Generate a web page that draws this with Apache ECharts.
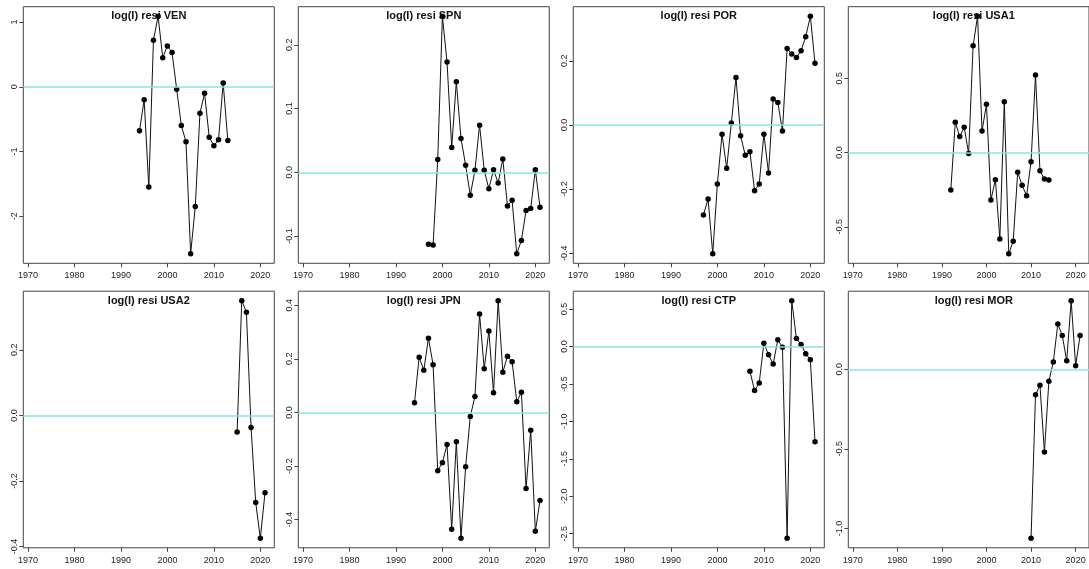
<!DOCTYPE html>
<html>
<head>
<meta charset="utf-8">
<script src="https://cdn.jsdelivr.net/npm/echarts@6/dist/echarts.min.js"></script>
<style>
  html, body { margin: 0; padding: 0; background: #fff; }
  #chart { width: 1089px; height: 569px; }
</style>
</head>
<body>
<div id="chart"></div>
<script>
// Panel names, in reading order (4 columns x 2 rows)
const panelNames = ['VEN', 'SPN', 'POR', 'USA1', 'USA2', 'JPN', 'CTP', 'MOR'];

// First year of each residual series (consecutive yearly values follow)
const firstYears = [1994, 1997, 1997, 1992, 2015, 1994, 2007, 2010];

// log(I) residuals per index
const venResid = [-0.68, -0.20, -1.55, 0.72, 1.09, 0.45, 0.63, 0.53, -0.04, -0.60,
                  -0.85, -2.58, -1.85, -0.41, -0.10, -0.78, -0.91, -0.82, 0.06, -0.83];
const spnResid = [-0.113, -0.114, 0.020, 0.245, 0.173, 0.039, 0.142, 0.053, 0.011, -0.036,
                  0.003, 0.074, 0.003, -0.026, 0.004, -0.017, 0.021, -0.053, -0.044, -0.128,
                  -0.107, -0.060, -0.057, 0.004, -0.055];
const porResid = [-0.281, -0.231, -0.402, -0.184, -0.029, -0.135, 0.006, 0.148, -0.034, -0.095,
                  -0.084, -0.205, -0.184, -0.029, -0.150, 0.081, 0.070, -0.019, 0.238, 0.221,
                  0.210, 0.231, 0.275, 0.339, 0.192];
const usa1Resid = [-0.253, 0.204, 0.107, 0.170, -0.007, 0.718, 0.917, 0.145, 0.324, -0.320,
                   -0.183, -0.582, 0.342, -0.682, -0.597, -0.134, -0.221, -0.291, -0.063, 0.521,
                   -0.123, -0.179, -0.186];
const usa2Resid = [-0.051, 0.350, 0.315, -0.037, -0.266, -0.375, -0.236];
const jpnResid = [0.036, 0.206, 0.157, 0.277, 0.178, -0.218, -0.188, -0.120, -0.436, -0.110,
                  -0.470, -0.203, -0.015, 0.059, 0.367, 0.163, 0.304, 0.073, 0.417, 0.150,
                  0.210, 0.189, 0.040, 0.075, -0.284, -0.067, -0.444, -0.329];
const ctpResid = [-0.332, -0.588, -0.487, 0.044, -0.111, -0.235, 0.088, -0.009, -2.562, 0.611,
                  0.106, 0.027, -0.097, -0.177, -1.274];
const morResid = [-1.062, -0.160, -0.100, -0.519, -0.075, 0.046, 0.285, 0.212, 0.054, 0.431,
                  0.023, 0.212];

// Tick labels
const yearTicks = [1970, 1980, 1990, 2000, 2010, 2020];
const venTicks = ['-2', '-1', '0', '1'];
const spnTicks = ['-0.1', '0.0', '0.1', '0.2'];
const porTicks = ['-0.4', '-0.2', '0.0', '0.2'];
const usa1Ticks = ['-0.5', '0.0', '0.5'];
const usa2Ticks = ['-0.4', '-0.2', '0.0', '0.2'];
const jpnTicks = ['-0.4', '-0.2', '0.0', '0.2', '0.4'];
const ctpTicks = ['-2.5', '-2.0', '-1.5', '-1.0', '-0.5', '0.0', '0.5'];
const morTicks = ['-1.0', '-0.5', '0.0'];

const residSets = [venResid, spnResid, porResid, usa1Resid, usa2Resid, jpnResid, ctpResid, morResid];
const tickSets = [venTicks, spnTicks, porTicks, usa1Ticks, usa2Ticks, jpnTicks, ctpTicks, morTicks];

// Panel geometry
const colStep = 275, rowStep = 284.5;
const boxLeft = 23.3, boxTop = 6.7, boxW = 251, boxH = 256.6;
const axisColor = '#444';
const zeroColor = '#84E4E8';
const fontFamily = '"Liberation Sans", Arial, Helvetica, sans-serif';

const grids = [], xAxes = [], yAxes = [], series = [], titles = [];

panelNames.forEach((name, i) => {
  const col = i % 4, row = Math.floor(i / 4);
  const left = boxLeft + col * colStep;
  const top = boxTop + row * rowStep;
  const vals = residSets[i];
  const pts = vals.map((v, k) => [firstYears[i] + k, v]);

  // 4% padding on each side of the data range
  const lo = Math.min(...vals), hi = Math.max(...vals);
  const pad = (hi - lo) * 0.04;

  const labels = tickSets[i];
  const labelMap = {};
  labels.forEach(s => { labelMap[Number(s).toFixed(4)] = s; });

  grids.push({
    left: left, top: top, width: boxW, height: boxH,
    show: true, borderColor: axisColor, borderWidth: 1, backgroundColor: 'transparent'
  });

  xAxes.push({
    type: 'value', gridIndex: i, min: 1969, max: 2023, position: 'bottom',
    axisLine: { show: false, onZero: false },
    splitLine: { show: false },
    axisTick: { show: true, length: 4, inside: false, customValues: yearTicks,
                lineStyle: { color: axisColor, width: 1 } },
    axisLabel: { show: true, margin: 8, customValues: yearTicks,
                 color: '#222', fontSize: 9, fontFamily: fontFamily,
                 formatter: v => String(Math.round(v)) }
  });

  yAxes.push({
    type: 'value', gridIndex: i, min: lo - pad, max: hi + pad, position: 'left',
    axisLine: { show: false, onZero: false },
    splitLine: { show: false },
    axisTick: { show: true, length: 4, inside: false, customValues: labels.map(Number),
                lineStyle: { color: axisColor, width: 1 } },
    axisLabel: { show: true, margin: 4, rotate: 90, customValues: labels.map(Number),
                 color: '#222', fontSize: 9, fontFamily: fontFamily,
                 formatter: v => labelMap[Number(v).toFixed(4)] || '' }
  });

  series.push({
    type: 'line', xAxisIndex: i, yAxisIndex: i, data: pts,
    symbol: 'circle', symbolSize: 5.5, showSymbol: true,
    lineStyle: { color: '#111', width: 1 },
    itemStyle: { color: '#000' },
    silent: true, animation: false, z: 3,
    markLine: {
      silent: true, symbol: ['none', 'none'], animation: false,
      label: { show: false },
      lineStyle: { color: zeroColor, width: 1.5, type: 'solid' },
      data: [{ yAxis: 0 }]
    }
  });

  titles.push({
    text: 'log(I) resi ' + name,
    left: left + boxW / 2, top: top + 4, textAlign: 'center', padding: 0,
    textStyle: { fontSize: 11, fontWeight: 'bold', color: '#111', fontFamily: fontFamily }
  });
});

const chart = echarts.init(document.getElementById('chart'), null, { renderer: 'canvas' });
chart.setOption({
  backgroundColor: '#fff',
  animation: false,
  title: titles,
  grid: grids,
  xAxis: xAxes,
  yAxis: yAxes,
  series: series
});
</script>
</body>
</html>
